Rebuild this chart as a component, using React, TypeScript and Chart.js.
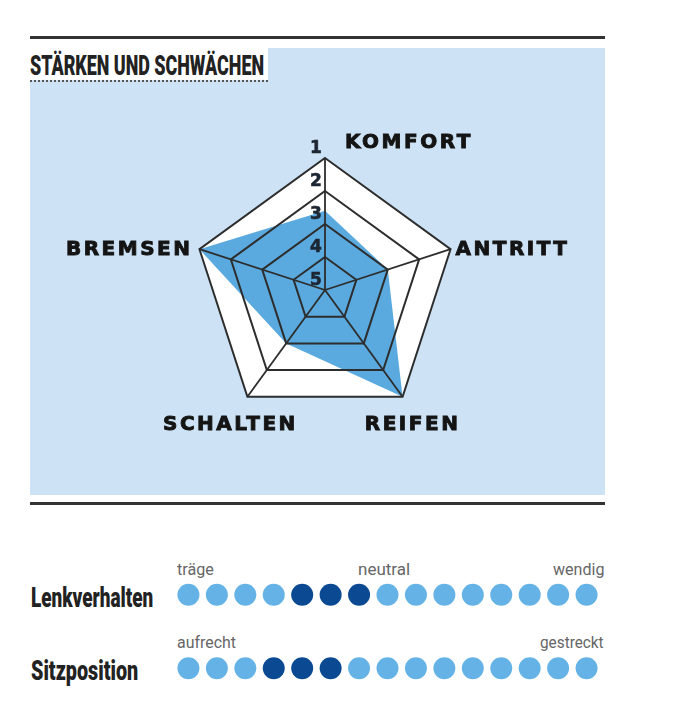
import React, { useEffect, useLayoutEffect, useRef } from 'react';
import { Chart, registerables } from 'chart.js';

Chart.register(...registerables);

// ---------- data ----------
const categories = ['KOMFORT', 'ANTRITT', 'REIFEN', 'SCHALTEN', 'BREMSEN'];
// school grades: 1 = best (outer ring) … 5 = worst (centre)
const grades = [2.6, 3, 1, 3, 1];
const gradeTicks = [1, 2, 3, 4, 5];

const rowNames = ['Lenkverhalten', 'Sitzposition'];
const rowLevels = [2, 1];
const dotSteps = [1, 2, 3, 4, 5, 6, 7, 8, 9, 10, 11, 12, 13, 14, 15];
const steeringMarked = [5, 6, 7];
const seatMarked = [4, 5, 6];
const steeringScale = ['träge', 'neutral', 'wendig'];
const seatScale = ['aufrecht', 'gestreckt'];

// ---------- styles ----------
const FILL_BLUE = '#5aaadf';
const PANEL_BLUE = '#cde3f5';
const GRID = '#2d2d2d';
const DOT_LIGHT = '#65b3e6';
const DOT_DARK = '#0b4a92';
const labelAlign: CanvasTextAlign[] = ['left', 'left', 'center', 'center', 'right'];
const labelShift = [
  [20, -15],
  [5, 1],
  [10, 28],
  [-17, 28],
  [-7, 1],
];

function FitText(props: {
  text: string;
  left: number;
  top: number;
  width: number;
  font: string;
  color: string;
}) {
  const ref = useRef<HTMLSpanElement>(null);
  useLayoutEffect(() => {
    const fit = () => {
      const el = ref.current;
      if (!el) return;
      el.style.transform = 'none';
      const w = el.offsetWidth;
      if (w > 0) el.style.transform = `scaleX(${props.width / w})`;
    };
    fit();
    if ((document as any).fonts && (document as any).fonts.ready) {
      (document as any).fonts.ready.then(fit);
    }
  }, [props.text, props.width]);
  return (
    <span
      ref={ref}
      style={{
        position: 'absolute',
        left: props.left,
        top: props.top,
        whiteSpace: 'nowrap',
        lineHeight: 1,
        font: props.font,
        color: props.color,
        transformOrigin: 'left top',
        display: 'inline-block',
      }}
    >
      {props.text}
    </span>
  );
}

function RadarChart() {
  const ref = useRef<HTMLCanvasElement>(null);
  useEffect(() => {
    if (!ref.current) return;
    const framePlugin = {
      id: 'pentagonFrame',
      beforeDatasetsDraw(chart: any) {
        const s = chart.scales.r;
        const ctx = chart.ctx;
        const d = s.getDistanceFromCenterForValue(gradeTicks[0]);
        ctx.save();
        ctx.beginPath();
        categories.forEach((_, i) => {
          const p = s.getPointPosition(i, d);
          if (i === 0) ctx.moveTo(p.x, p.y);
          else ctx.lineTo(p.x, p.y);
        });
        ctx.closePath();
        ctx.fillStyle = '#ffffff';
        ctx.fill();
        ctx.restore();
      },
      afterDraw(chart: any) {
        const s = chart.scales.r;
        const ctx = chart.ctx;
        ctx.save();
        // tick labels
        ctx.font = 'bold 17px "DejaVu Sans"';
        ctx.fillStyle = '#1d2633';
        ctx.strokeStyle = '#1d2633';
        ctx.lineWidth = 0.6;
        ctx.textAlign = 'center';
        ctx.textBaseline = 'middle';
        gradeTicks.forEach((t) => {
          const d = s.getDistanceFromCenterForValue(t);
          ctx.fillText(String(t), s.xCenter - 9, s.yCenter - d - 9);
          ctx.strokeText(String(t), s.xCenter - 9, s.yCenter - d - 9);
        });
        // point labels
        ctx.font = 'bold 20px "DejaVu Sans"';
        (ctx as any).letterSpacing = '2.5px';
        ctx.fillStyle = '#141414';
        ctx.strokeStyle = '#141414';
        ctx.lineWidth = 0.9;
        const outer = s.getDistanceFromCenterForValue(gradeTicks[0]);
        categories.forEach((c, i) => {
          const p = s.getPointPosition(i, outer);
          ctx.textAlign = labelAlign[i];
          ctx.fillText(c, p.x + labelShift[i][0], p.y + labelShift[i][1]);
          ctx.strokeText(c, p.x + labelShift[i][0], p.y + labelShift[i][1]);
        });
        (ctx as any).letterSpacing = '0px';
        ctx.restore();
      },
    };
    const chart = new Chart(ref.current, {
      type: 'radar',
      data: {
        labels: categories,
        datasets: [
          {
            label: 'Note',
            data: grades,
            backgroundColor: FILL_BLUE,
            borderWidth: 0,
            pointRadius: 0,
            fill: 'start',
          },
        ],
      },
      options: {
        animation: false,
        responsive: true,
        maintainAspectRatio: false,
        layout: { padding: { left: 163, right: 148, top: 110, bottom: 73 } },
        plugins: { legend: { display: false }, tooltip: { enabled: false } },
        scales: {
          r: {
            min: 1,
            max: 5,
            reverse: true,
            ticks: { display: false, stepSize: 1 },
            pointLabels: { display: false },
            grid: { color: GRID, lineWidth: 2, z: 1 },
            angleLines: { color: GRID, lineWidth: 1.8 },
          },
        },
      },
      plugins: [framePlugin],
    } as any);
    return () => chart.destroy();
  }, []);
  return (
    <div style={{ position: 'absolute', left: 30, top: 48, width: 575, height: 447 }}>
      <canvas ref={ref} />
    </div>
  );
}

function DotChart() {
  const ref = useRef<HTMLCanvasElement>(null);
  useEffect(() => {
    if (!ref.current) return;
    const marked = [steeringMarked, seatMarked];
    const chart = new Chart(ref.current, {
      type: 'scatter',
      data: {
        datasets: rowNames.map((name, r) => ({
          label: name,
          data: dotSteps.map((x) => ({ x, y: rowLevels[r] })),
          backgroundColor: dotSteps.map((x) => (marked[r].includes(x) ? DOT_DARK : DOT_LIGHT)),
          pointRadius: 11,
          pointHoverRadius: 11,
          borderWidth: 0,
        })),
      },
      options: {
        animation: false,
        responsive: true,
        maintainAspectRatio: false,
        layout: { padding: 0, autoPadding: false },
        plugins: { legend: { display: false }, tooltip: { enabled: false } },
        scales: {
          x: { type: 'linear', min: 0, max: 16, display: false },
          y: { type: 'linear', min: 0.5, max: 2.5, display: false },
        },
      },
    } as any);
    return () => chart.destroy();
  }, []);
  return (
    <div style={{ position: 'absolute', left: 160, top: 558, width: 455, height: 147 }}>
      <canvas ref={ref} />
    </div>
  );
}

export default function App() {
  const small = '17px Roboto';
  const grey = '#666666';
  const heavy = '900 27px Roboto';
  return (
    <div
      style={{
        position: 'fixed',
        left: 0,
        top: 0,
        width: 677,
        height: 720,
        background: '#ffffff',
        overflow: 'hidden',
      }}
    >
      <div style={{ position: 'absolute', left: 30, top: 36, width: 575, height: 3, background: '#333333' }} />
      <div style={{ position: 'absolute', left: 30, top: 48, width: 575, height: 447, background: PANEL_BLUE }} />
      <div style={{ position: 'absolute', left: 30, top: 48, width: 238, height: 32, background: '#ffffff' }} />
      <div
        style={{
          position: 'absolute',
          left: 30,
          top: 80,
          width: 238,
          height: 0,
          borderTop: '2px dotted #555555',
        }}
      />
      <FitText text="STÄRKEN UND SCHWÄCHEN" left={30} top={49} width={234} font="900 28px Roboto" color="#222222" />
      <RadarChart />
      <div style={{ position: 'absolute', left: 30, top: 502, width: 575, height: 3, background: '#333333' }} />

      <FitText text={rowNames[0]} left={31} top={582} width={122} font={heavy} color="#222222" />
      <FitText text={rowNames[1]} left={31} top={655} width={107} font={heavy} color="#222222" />

      <FitText text={steeringScale[0]} left={177} top={559} width={37} font={small} color={grey} />
      <FitText text={steeringScale[1]} left={358} top={559} width={52} font={small} color={grey} />
      <FitText text={steeringScale[2]} left={553} top={559} width={51} font={small} color={grey} />
      <FitText text={seatScale[0]} left={177} top={632} width={59} font={small} color={grey} />
      <FitText text={seatScale[1]} left={540} top={632} width={64} font={small} color={grey} />

      <DotChart />
    </div>
  );
}
